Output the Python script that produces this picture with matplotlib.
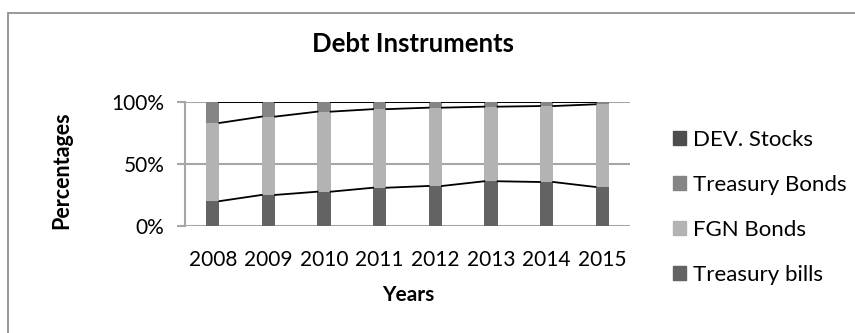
import numpy as np
import matplotlib.pyplot as plt
from matplotlib.patches import Rectangle, Patch

plt.rcParams['font.family'] = ['Lato', 'DejaVu Sans']

# Data (percent shares)
years = ['2008', '2009', '2010', '2011', '2012', '2013', '2014', '2015']
treasury_bills = [20.0, 25.0, 27.6, 30.8, 32.2, 36.0, 35.4, 31.4]
fgn_bonds = [62.9, 63.0, 64.4, 63.2, 63.0, 60.0, 61.1, 66.5]
treasury_bonds = [17.1, 12.0, 8.0, 6.0, 4.8, 4.0, 3.5, 2.1]
dev_stocks = [0.0, 0.0, 0.0, 0.0, 0.0, 0.0, 0.0, 0.0]

series = [('Treasury bills', treasury_bills, '#636363'),
          ('FGN Bonds', fgn_bonds, '#b3b3b3'),
          ('Treasury Bonds', treasury_bonds, '#858585'),
          ('DEV. Stocks', dev_stocks, '#4d4d4d')]

W, H = 855, 333
fig = plt.figure(figsize=(W/100, H/100), dpi=100)
ax = fig.add_axes([185/W, 1 - 226/H, 445/W, 124.3/H])

x = np.arange(len(years))
w = 0.24
bottom = np.zeros(len(years))
for name, vals, col in series:
    vals = np.array(vals)
    ax.bar(x, vals, w, bottom=bottom, color=col, zorder=2)
    bottom = bottom + vals
    # series lines between neighbouring bars
    for i in range(len(years) - 1):
        ax.plot([x[i] + w/2, x[i+1] - w/2], [bottom[i], bottom[i+1]],
                color='black', lw=1.3, zorder=3)

ax.set_xlim(-0.5, len(years) - 0.5)
ax.set_ylim(0, 100)
ax.set_yticks([0, 50, 100])
ax.set_yticklabels(['0%', '50%', '100%'])
ax.set_xticks(x)
ax.set_xticklabels(years)
ax.grid(axis='y', color='#a6a6a6', lw=1.5, zorder=1)
for s in ['top', 'right', 'bottom']:
    ax.spines[s].set_visible(False)
ax.spines['left'].set_color('#a6a6a6')
ax.spines['left'].set_linewidth(1.5)
ax.tick_params(axis='y', length=5.8, width=1.5, color='#a6a6a6', labelsize=15, pad=9)
ax.tick_params(axis='x', length=0, labelsize=15, pad=17)

fig.text(408/W, 1 - 295/H, 'Years', fontsize=15, fontweight='bold', ha='center', va='center')
fig.text(62/W, 1 - 170/H, 'Percentages', fontsize=15.5, fontweight='bold',
         rotation=90, ha='center', va='center')
fig.text(413/W, 1 - 44/H, 'Debt Instruments', fontsize=18.5, fontweight='bold',
         ha='center', va='center')

handles = [Patch(color=col, label=name) for name, vals, col in series][::-1]
fig.legend(handles=handles, loc='center left', bbox_to_anchor=(673/W, 1 - 207.5/H),
           frameon=False, fontsize=16, handlelength=0.6, handleheight=0.6,
           handletextpad=0.3, labelspacing=1.12, borderpad=0, borderaxespad=0)

fig.patches.append(Rectangle((8/W, -0.1), 1.2, 1 - 13/H + 0.1, transform=fig.transFigure,
                             fill=False, edgecolor='#888888', lw=1.2))

fig.savefig('out.png', dpi=100)
